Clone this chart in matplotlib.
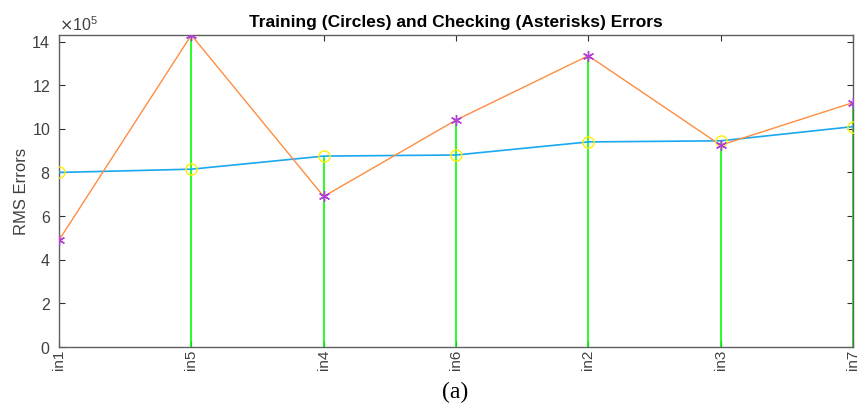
import numpy as np
import matplotlib
matplotlib.use("Agg")
import matplotlib.pyplot as plt
from matplotlib.ticker import ScalarFormatter

# input order and errors (units of 1e5)
inputs = ['in1', 'in5', 'in4', 'in6', 'in2', 'in3', 'in7']
trn_err = [8.0, 8.15, 8.75, 8.8, 9.4, 9.45, 10.1]
chk_err = [4.9, 14.3, 6.9, 10.4, 13.35, 9.25, 11.2]

trn = np.array(trn_err) * 1e5
chk = np.array(chk_err) * 1e5
x = np.arange(1, len(inputs) + 1)

plt.rcParams['font.family'] = ['Liberation Sans', 'DejaVu Sans']
grey = '#404040'

fig = plt.figure(figsize=(8.59, 4.07), dpi=100)
ax = fig.add_axes([0.0687, 0.1474, 0.9243, 0.7666])

# stems up to the larger of the two errors
ax.vlines(x, 0, np.maximum(trn, chk), color='#00ff00', lw=1.2, zorder=2)
ax.plot(x, trn, '-', color='#1aa8f0', lw=1.2, zorder=3)
ax.plot(x, chk, '-', color='#ff8c40', lw=1.0, zorder=3)
ax.plot(x, trn, 'o', mfc='none', mec='#ffee00', ms=8, mew=1.0, zorder=4)
ax.plot(x, chk, color='#b040d8', ms=8, mew=1.0, zorder=4,
        marker=(6, 2, 0), ls='none')

ax.set_xlim(1, 7)
ax.set_ylim(0, 14.3e5)
ax.set_xticks(x)
ax.set_xticklabels(inputs, rotation=90, fontsize=11, color=grey)
ax.set_yticks(np.arange(0, 15, 2) * 1e5)

fmt = ScalarFormatter(useMathText=True)
fmt.set_powerlimits((5, 5))
ax.yaxis.set_major_formatter(fmt)
ax.yaxis.get_offset_text().set_fontsize(11.5)
ax.yaxis.get_offset_text().set_color('#808080')

ax.tick_params(direction='in', top=True, right=True, length=4,
               labelsize=11.5, labelcolor=grey, color='#303030', pad=6)
ax.tick_params(axis='x', labelsize=11, pad=2)
for s in ax.spines.values():
    s.set_color('#606060')
    s.set_linewidth(1.0)

ax.set_ylabel('RMS Errors', fontsize=12, color=grey, labelpad=2)
ax.set_title('Training (Circles) and Checking (Asterisks) Errors',
             fontsize=12.5, fontweight='bold', pad=6)
fig.text(0.53, 0.035, '(a)', fontsize=17, family='Liberation Serif',
         ha='center', va='center')

fig.savefig('out.png', dpi=100)
